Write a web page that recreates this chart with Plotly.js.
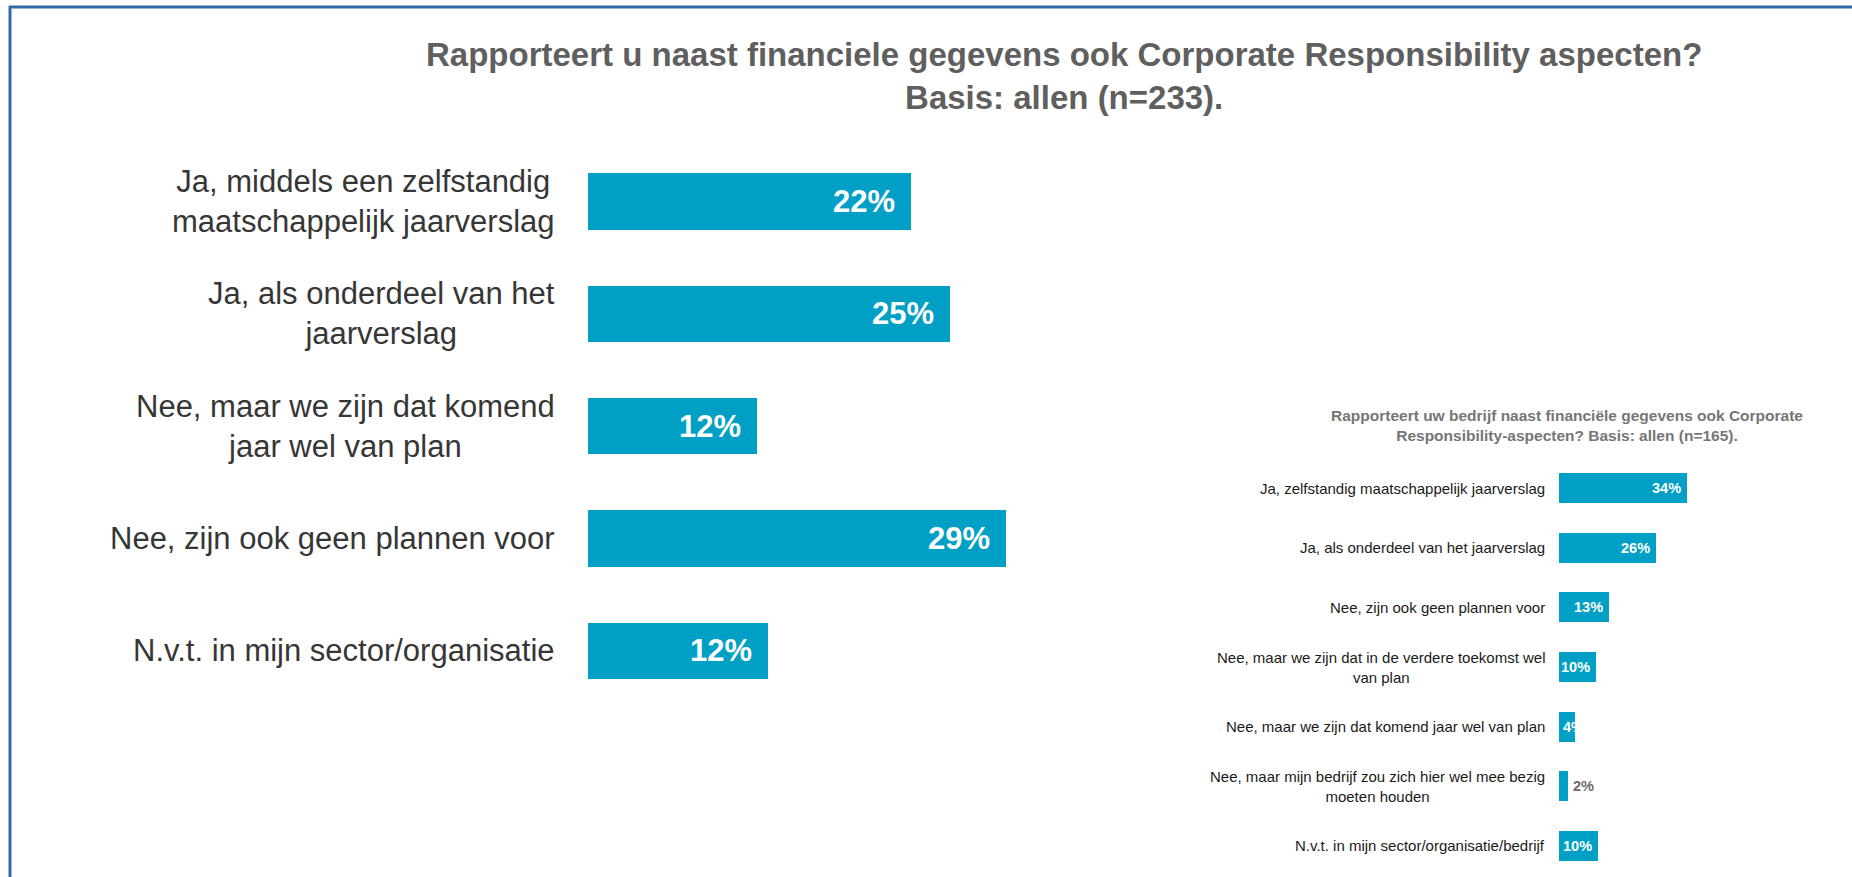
<!DOCTYPE html>
<html>
<head>
<meta charset="utf-8">
<script src="https://cdn.plot.ly/plotly-3.0.1.min.js"></script>
<style>
  html, body { margin: 0; padding: 0; background: #ffffff; }
  #chart { width: 1852px; height: 877px; }
</style>
</head>
<body>
<div id="chart"></div>
<script>
// ---- Data: main chart (n=233) ----
var mainTitle = "Rapporteert u naast financiele gegevens ook Corporate Responsibility aspecten?<br>Basis: allen (n=233).";
var mainCategories = [
  "Ja, middels een zelfstandig<br>maatschappelijk jaarverslag",
  "Ja, als onderdeel van het<br>jaarverslag",
  "Nee, maar we zijn dat komend<br>jaar wel van plan",
  "Nee, zijn ook geen plannen voor",
  "N.v.t. in mijn sector/organisatie"
];
var mainValues = [22.35, 25.05, 11.7, 28.95, 12.45];

// ---- Data: inset chart (n=165) ----
var smallTitle = "Rapporteert uw bedrijf naast financiële gegevens ook Corporate<br>Responsibility-aspecten? Basis: allen (n=165).";
var smallCategories = [
  "Ja, zelfstandig maatschappelijk jaarverslag",
  "Ja, als onderdeel van het jaarverslag",
  "Nee, zijn ook geen plannen voor",
  "Nee, maar we zijn dat in de verdere toekomst wel<br>van plan",
  "Nee, maar we zijn dat komend jaar wel van plan",
  "Nee, maar mijn bedrijf zou zich hier wel mee bezig<br>moeten houden",
  "N.v.t. in mijn sector/organisatie/bedrijf"
];
var smallValues = [34, 25.8, 13.3, 9.8, 4.2, 2.45, 10.3];

// ---- Styling ----
var BAR = '#00a0c6';
var FONT = 'Liberation Sans, Arial, sans-serif';
var W = 1852, H = 877;
function px(x) { return x / W; }
function py(y) { return 1 - y / H; }

var traces = [
  {
    type: 'bar', orientation: 'h',
    x: mainValues, y: mainCategories,
    xaxis: 'x', yaxis: 'y',
    marker: { color: BAR, line: { width: 0 } },
    width: 0.5,
    hoverinfo: 'skip'
  },
  {
    type: 'bar', orientation: 'h',
    x: smallValues, y: smallCategories,
    xaxis: 'x2', yaxis: 'y2',
    marker: { color: BAR, line: { width: 0 } },
    width: 0.5,
    hoverinfo: 'skip'
  }
];

var annotations = [];
// titles
annotations.push({
  text: mainTitle, xref: 'paper', yref: 'paper',
  x: px(1064), y: py(34), xanchor: 'center', yanchor: 'top',
  showarrow: false, align: 'center',
  font: { family: FONT, size: 33, color: '#5f5f5f', weight: 'bold' }
});
annotations.push({
  text: smallTitle, xref: 'paper', yref: 'paper',
  x: px(1567), y: py(405), xanchor: 'center', yanchor: 'top',
  showarrow: false, align: 'center',
  font: { family: FONT, size: 15.5, color: '#767676', weight: 'bold' }
});

// main category labels and value labels
mainCategories.forEach(function (c, i) {
  annotations.push({
    text: c, xref: 'paper', yref: 'y', x: px(557), y: c,
    xanchor: 'right', yanchor: 'middle', align: 'center', showarrow: false,
    font: { family: FONT, size: 31, color: '#363636' }
  });
  annotations.push({
    text: Math.round(mainValues[i]) + '%', xref: 'x', yref: 'y',
    x: mainValues[i], y: c, xanchor: 'right', yanchor: 'middle', xshift: -14,
    showarrow: false,
    font: { family: FONT, size: 31, color: '#ffffff', weight: 'bold' }
  });
});

// small category labels and value labels
smallCategories.forEach(function (c, i) {
  var v = smallValues[i];
  annotations.push({
    text: c, xref: 'paper', yref: 'y2', x: px(1547), y: c,
    xanchor: 'right', yanchor: 'middle', align: 'center', showarrow: false,
    font: { family: FONT, size: 15, color: '#1a1a1a' }
  });
  var lbl = {
    text: Math.round(v) + '%', xref: 'x2', yref: 'y2', y: c,
    yanchor: 'middle', showarrow: false,
    font: { family: FONT, size: 14.5, color: '#ffffff', weight: 'bold' }
  };
  if (v < 3) {           // too small: label outside, grey
    lbl.x = v; lbl.xanchor = 'left'; lbl.xshift = 3;
    lbl.font.color = '#6b6b6b';
  } else if (v < 6) {    // narrow bar: label starts at bar base
    lbl.x = 0; lbl.xanchor = 'left'; lbl.xshift = 2;
  } else {
    lbl.x = v; lbl.xanchor = 'right'; lbl.xshift = -4;
  }
  annotations.push(lbl);
});

var hidden = {
  showgrid: false, zeroline: false, showline: false,
  showticklabels: false, ticks: '', fixedrange: true
};

var layout = {
  width: W, height: H, autosize: false,
  margin: { l: 0, r: 0, t: 0, b: 0, pad: 0 },
  paper_bgcolor: '#ffffff', plot_bgcolor: 'rgba(0,0,0,0)',
  showlegend: false,
  bargap: 0,
  xaxis: Object.assign({}, hidden, {
    domain: [px(588), px(588 + 433.5)], range: [0, 30]
  }),
  yaxis: Object.assign({}, hidden, {
    domain: [py(706.9), py(145.3)],
    type: 'category', categoryorder: 'array', categoryarray: mainCategories,
    range: [mainCategories.length - 0.5, -0.5]
  }),
  xaxis2: Object.assign({}, hidden, {
    domain: [px(1559), px(1559 + 150.6)], range: [0, 40], anchor: 'y2'
  }),
  yaxis2: Object.assign({}, hidden, {
    domain: [py(875.8), py(458.2)], anchor: 'x2',
    type: 'category', categoryorder: 'array', categoryarray: smallCategories,
    range: [smallCategories.length - 0.5, -0.5]
  }),
  annotations: annotations,
  shapes: [
    { type: 'line', xref: 'paper', yref: 'paper', x0: px(9), x1: 1, y0: py(7), y1: py(7),
      line: { color: '#3567ae', width: 3 } },
    { type: 'line', xref: 'paper', yref: 'paper', x0: px(10), x1: px(10), y0: 0, y1: py(6),
      line: { color: '#3567ae', width: 3 } }
  ]
};

Plotly.newPlot('chart', traces, layout, { staticPlot: true, displayModeBar: false });
</script>
</body>
</html>
